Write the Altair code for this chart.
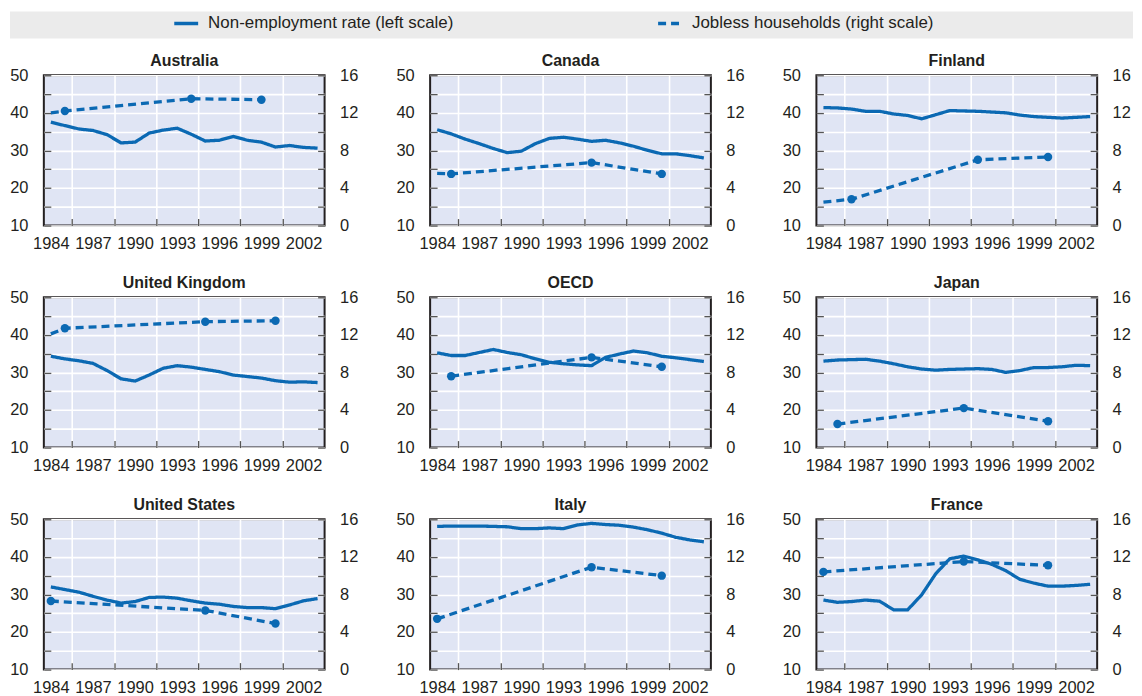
import altair as alt
import pandas as pd

# ---------------- data ----------------
countries = ["Australia", "Canada", "Finland",
             "United Kingdom", "OECD", "Japan",
             "United States", "Italy", "France"]
years = list(range(1984, 2004))

australia_rate = [37.5, 36.6, 35.7, 35.3, 34.2, 32.0, 32.2, 34.6, 35.4, 35.9, 34.3, 32.5, 32.7, 33.7, 32.7, 32.2, 30.9, 31.3, 30.8, 30.6]
canada_rate = [35.5, 34.4, 33.0, 31.8, 30.5, 29.4, 29.8, 31.8, 33.2, 33.5, 33.0, 32.4, 32.7, 32.0, 31.1, 30.0, 29.1, 29.1, 28.6, 28.0]
finland_rate = [41.4, 41.3, 41.0, 40.4, 40.4, 39.7, 39.3, 38.4, 39.5, 40.6, 40.5, 40.4, 40.2, 40.0, 39.4, 39.0, 38.8, 38.6, 38.8, 39.0]
uk_rate = [34.3, 33.6, 33.1, 32.4, 30.5, 28.3, 27.7, 29.3, 31.1, 31.8, 31.4, 30.8, 30.2, 29.3, 28.9, 28.5, 27.8, 27.4, 27.5, 27.3]
oecd_rate = [35.2, 34.5, 34.5, 35.3, 36.1, 35.3, 34.7, 33.6, 32.7, 32.3, 32.0, 31.8, 34.0, 34.9, 35.7, 35.2, 34.3, 33.9, 33.4, 32.9]
japan_rate = [33.0, 33.3, 33.4, 33.5, 33.0, 32.3, 31.5, 30.9, 30.6, 30.8, 30.9, 31.0, 30.8, 30.0, 30.5, 31.3, 31.3, 31.5, 31.9, 31.8]
us_rate = [32.0, 31.3, 30.6, 29.5, 28.5, 27.7, 28.1, 29.2, 29.3, 29.0, 28.3, 27.7, 27.4, 26.8, 26.5, 26.5, 26.2, 27.2, 28.3, 28.9]
italy_rate = [48.1, 48.2, 48.2, 48.2, 48.1, 48.0, 47.5, 47.5, 47.7, 47.5, 48.5, 48.9, 48.6, 48.4, 47.9, 47.2, 46.3, 45.2, 44.5, 44.0]
france_rate = [28.5, 27.9, 28.1, 28.5, 28.2, 25.9, 25.9, 29.9, 35.5, 39.5, 40.2, 39.2, 38.0, 36.3, 34.0, 33.0, 32.2, 32.2, 32.4, 32.7]

# jobless households (right scale): survey years, values, and an unmarked 1984 start value where drawn
australia_jobless_years = [1985, 1994, 1999]
australia_jobless = [12.2, 13.5, 13.4]
australia_jobless_start = 12.0
canada_jobless_years = [1985, 1995, 2000]
canada_jobless = [5.5, 6.7, 5.5]
canada_jobless_start = 5.55
finland_jobless_years = [1986, 1995, 2000]
finland_jobless = [2.8, 7.0, 7.3]
finland_jobless_start = 2.5
uk_jobless_years = [1985, 1995, 2000]
uk_jobless = [12.7, 13.4, 13.5]
uk_jobless_start = 12.1
oecd_jobless_years = [1985, 1995, 2000]
oecd_jobless = [7.6, 9.6, 8.6]
japan_jobless_years = [1985, 1994, 2000]
japan_jobless = [2.5, 4.2, 2.8]
us_jobless_years = [1984, 1995, 2000]
us_jobless = [7.3, 6.3, 4.9]
italy_jobless_years = [1984, 1995, 2000]
italy_jobless = [5.4, 10.9, 10.0]
france_jobless_years = [1984, 1994, 2000]
france_jobless = [10.4, 11.5, 11.1]

series_names = ["Non-employment rate (left scale)", "Jobless households (right scale)"]
x_label_years = [1984, 1987, 1990, 1993, 1996, 1999, 2002]
left_ticks = [10, 15, 20, 25, 30, 35, 40, 45, 50]
right_ticks = [0, 2, 4, 6, 8, 10, 12, 14, 16]

panel_data = [
    ("Australia", australia_rate, australia_jobless_years, australia_jobless, australia_jobless_start),
    ("Canada", canada_rate, canada_jobless_years, canada_jobless, canada_jobless_start),
    ("Finland", finland_rate, finland_jobless_years, finland_jobless, finland_jobless_start),
    ("United Kingdom", uk_rate, uk_jobless_years, uk_jobless, uk_jobless_start),
    ("OECD", oecd_rate, oecd_jobless_years, oecd_jobless, None),
    ("Japan", japan_rate, japan_jobless_years, japan_jobless, None),
    ("United States", us_rate, us_jobless_years, us_jobless, None),
    ("Italy", italy_rate, italy_jobless_years, italy_jobless, None),
    ("France", france_rate, france_jobless_years, france_jobless, None),
]

# ---------------- style ----------------
BLUE = "#0b69b3"
TEXT = "#231f20"
FONT = "Liberation Sans, Arial, sans-serif"
W, H = 282, 151
FS = 16.5
BOX_TOP, BOX_BOTTOM, BOX_LEFT, BOX_RIGHT = -64, -37, -34, 1094

boundaries = [1984.5 + i for i in range(19)]
is_boundary = "datum.value % 1 != 0"

x_axis = alt.Axis(
    values=x_label_years + boundaries, format="d",
    labelExpr="datum.value % 1 == 0 ? datum.label : ''",
    labelOverlap=False, labelFlush=False, labelBound=False,
    grid=True, gridColor="white", gridWidth=1.6,
    gridOpacity={"condition": {"test": is_boundary, "value": 1}, "value": 0},
    tickOpacity={"condition": {"test": is_boundary, "value": 1}, "value": 0},
    tickSize={"expr": "-7"}, tickColor="#555555", tickWidth=1.3,
    labelPadding=17,
    domain=False, title=None,
)
y_left_axis = alt.Axis(
    values=left_ticks, labelExpr="datum.value % 10 == 0 ? datum.label : ''",
    grid=True, gridColor="white", gridWidth=1.6,
    tickSize={"expr": "-7"}, tickColor="#555555", tickWidth=1.3,
    labelPadding=23, domain=False, title=None,
)
y_right_axis = alt.Axis(
    orient="right", values=right_ticks, labelExpr="datum.value % 4 == 0 ? datum.label : ''",
    grid=False, tickSize={"expr": "-7"}, tickColor="#555555", tickWidth=1.3,
    labelPadding=22, domain=False, title=None,
)

dash_scale = alt.Scale(domain=series_names, range=[[1, 0], [8, 5]])
x_enc = alt.X("year:Q", scale=alt.Scale(domain=[1983.5, 2003.5], nice=False, zero=False), axis=x_axis)


def panel(name, rate, jyears, jvals, jstart, legend_box=False):
    df_rate = pd.DataFrame({"year": years, "value": rate, "series": series_names[0]})
    lyears = ([1984] if jstart is not None else []) + jyears
    lvals = ([jstart] if jstart is not None else []) + jvals
    df_jline = pd.DataFrame({"year": lyears, "value": lvals, "series": series_names[1]})
    df_jpts = pd.DataFrame({"year": jyears, "value": jvals})

    left = alt.Chart(df_rate).mark_line(color=BLUE, strokeWidth=3.3).encode(
        x=x_enc,
        y=alt.Y("value:Q", scale=alt.Scale(domain=[10, 50], nice=False, zero=False), axis=y_left_axis),
        strokeDash=alt.StrokeDash("series:N", scale=dash_scale),
    )
    yr = alt.Y("value:Q", scale=alt.Scale(domain=[0, 16], nice=False), axis=y_right_axis)
    jline = alt.Chart(df_jline).mark_line(color=BLUE, strokeWidth=3.3).encode(
        x=x_enc, y=yr, strokeDash=alt.StrokeDash("series:N", scale=dash_scale),
    )
    jpts = alt.Chart(df_jpts).mark_circle(color=BLUE, size=72, opacity=1).encode(x=x_enc, y=yr)
    right = alt.layer(jline, jpts)

    layers = [left, right]
    title_offset = -2
    if legend_box:
        box = alt.Chart(pd.DataFrame({"k": [0]})).mark_rect(color="#ebebeb").encode(
            x=alt.value(BOX_LEFT), x2=alt.value(BOX_RIGHT),
            y=alt.value(BOX_TOP), y2=alt.value(BOX_BOTTOM),
        )
        layers = [box] + layers
        title_offset = -2 + (BOX_TOP + 8.25)  # keep the title just above the plot
    return alt.layer(*layers).resolve_scale(y="independent").properties(
        width=W, height=H,
        title=alt.TitleParams(name, fontSize=16, fontWeight="bold", font=FONT, color=TEXT,
                              offset=title_offset, frame="group", anchor="middle"),
    )


panels = [panel(*p, legend_box=(i == 0)) for i, p in enumerate(panel_data)]

chart = alt.concat(
    *panels, columns=3, spacing={"row": 72, "column": 106}, bounds="flush"
).properties(padding=0).configure_view(
    fill="#e0e5f4", stroke=TEXT, strokeWidth=2
).configure_axis(
    labelFont=FONT, labelFontSize=FS, labelColor=TEXT
).configure_legend(
    orient="none", legendX=129, legendY=-66, direction="horizontal", title=None,
    padding=0, labelFont=FONT, labelFontSize=17, labelColor=TEXT, labelOffset=8, labelLimit=400,
    symbolType="stroke", symbolStrokeWidth=3.5, symbolSize=576, symbolStrokeColor=BLUE,
    columnPadding=198,
)

chart.save("out.html", embed_options={"renderer": "svg", "actions": False})
